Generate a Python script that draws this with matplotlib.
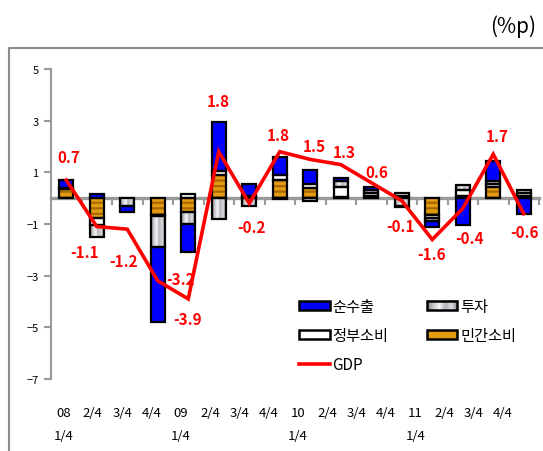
import numpy as np
import matplotlib
matplotlib.use("Agg")
import matplotlib.pyplot as plt
from matplotlib.patches import Patch, Rectangle
from matplotlib.lines import Line2D
from matplotlib.legend_handler import HandlerBase
from matplotlib.image import BboxImage
from matplotlib.transforms import Bbox, TransformedBbox, blended_transform_factory
from matplotlib.colors import LinearSegmentedColormap

plt.rcParams['font.family'] = ['Noto Sans CJK KR', 'DejaVu Sans']
plt.rcParams['hatch.linewidth'] = 1.6

# -----------------------------------------------------------------------------
# Data : contributions to GDP growth (q/q, %p)
# -----------------------------------------------------------------------------
quarters = ["08\n1/4", "2/4", "3/4", "4/4",
            "09\n1/4", "2/4", "3/4", "4/4",
            "10\n1/4", "2/4", "3/4", "4/4",
            "11\n1/4", "2/4", "3/4", "4/4"]
gdp = [0.7, -1.1, -1.2, -3.2, -3.9, 1.8, -0.2, 1.8,
       1.5, 1.3, 0.6, -0.1, -1.6, -0.4, 1.7, -0.6]
private = [0.35, -0.75, 0.0, -0.65, -0.55, 0.9, 0.05, 0.7,
           0.4, 0.05, 0.1, 0.1, -0.65, 0.1, 0.45, 0.1]
government = [0.05, -0.3, 0.0, -0.05, 0.15, 0.15, 0.05, 0.2,
              0.15, 0.4, 0.1, 0.1, -0.1, 0.2, 0.1, 0.1]
investment = [0.0, -0.45, -0.32, -1.2, -0.45, -0.8, -0.3, -0.05,
              -0.1, 0.2, 0.1, -0.3, -0.15, 0.2, 0.1, 0.1]
net_exports = [0.3, 0.15, -0.2, -2.9, -1.1, 1.9, 0.45, 0.7,
               0.55, 0.15, 0.15, -0.05, -0.2, -1.05, 0.8, -0.6]

# -----------------------------------------------------------------------------
# Styles
# -----------------------------------------------------------------------------
BLUE = '#0000ff'
ORANGE = '#e39b12'
ORANGE_DARK = '#a86a00'
RED = '#ff0000'
AXIS_GREY = '#9a9a9a'
FRAME_GREY = '#8c8c8c'
grey_cmap = LinearSegmentedColormap.from_list(
    'steel', ['#85858d', '#c9c9ce', '#f5f5f7', '#b2b2ba', '#dcdce0', '#85858d'])
grad = np.linspace(0, 1, 64).reshape(1, -1)

# label offsets in pixels (dx, dy) for the GDP values
label_offsets = [(3, 23), (-12, -25), (-4, -32), (23, 2), (-1, -20), (0, 51),
                 (2, -24), (-1, 17), (4, 13), (3, 13), (6, 11), (-1, -25),
                 (-1, -15), (7, -30), (4, 18), (1, -18)]


class SwatchHandler(HandlerBase):
    """Legend swatch that mimics the bar fills (gradient / striped)."""

    def __init__(self, kind):
        super().__init__()
        self.kind = kind

    def create_artists(self, legend, orig_handle, xdescent, ydescent,
                       width, height, fontsize, trans):
        x0, y0 = -xdescent, -ydescent
        artists = []
        face = 'none'
        if self.kind == 'grey':
            bb = TransformedBbox(Bbox.from_bounds(x0, y0, width, height), trans)
            img = BboxImage(bb, cmap=grey_cmap, interpolation='bilinear')
            img.set_data(grad)
            artists.append(img)
        elif self.kind == 'orange':
            artists.append(Rectangle((x0, y0), width, height, facecolor=ORANGE,
                                     edgecolor=ORANGE_DARK, linewidth=0,
                                     hatch='-', transform=trans))
        elif self.kind == 'blue':
            face = BLUE
        else:
            face = 'white'
        artists.append(Rectangle((x0, y0), width, height, facecolor=face,
                                 edgecolor='black', linewidth=1.8,
                                 transform=trans))
        return artists


fig = plt.figure(figsize=(5.43, 4.52), dpi=100)
ax = fig.add_axes([51 / 543, 1 - 380 / 452, (539 - 51) / 543, 310 / 452])

x = np.arange(len(quarters))
width = 0.45

# stacked bars: private, government, investment, net exports
pos_base = np.zeros(len(x))
neg_base = np.zeros(len(x))
for values, kind in [(private, 'orange'), (government, 'white'),
                     (investment, 'grey'), (net_exports, 'blue')]:
    v = np.array(values, dtype=float)
    bottom = np.where(v >= 0, pos_base, neg_base)
    m = v != 0
    if kind == 'orange':
        ax.bar(x[m], v[m], width, bottom=bottom[m], color=ORANGE,
               edgecolor=ORANGE_DARK, linewidth=0, hatch='---', zorder=3)
    elif kind == 'white':
        ax.bar(x[m], v[m], width, bottom=bottom[m], color='white', zorder=3)
    elif kind == 'blue':
        ax.bar(x[m], v[m], width, bottom=bottom[m], color=BLUE, zorder=3)
    else:
        for xi, vi, bi in zip(x[m], v[m], bottom[m]):
            ax.imshow(grad, cmap=grey_cmap, aspect='auto',
                      interpolation='bilinear', zorder=3,
                      extent=(xi - width / 2, xi + width / 2, bi, bi + vi))
    ax.bar(x[m], v[m], width, bottom=bottom[m], facecolor='none',
           edgecolor='black', linewidth=1.6, zorder=4)
    pos_base += np.where(v > 0, v, 0)
    neg_base += np.where(v < 0, v, 0)

# GDP line and value labels
ax.plot(x, gdp, color=RED, linewidth=2.6, zorder=5, solid_joinstyle='miter')
for xi, val, (dx, dy) in zip(x, gdp, label_offsets):
    ax.annotate(f"{val:.1f}", (xi, val), xytext=(dx, dy),
                textcoords='offset pixels', ha='center', va='center',
                color=RED, fontsize=11, fontweight='bold', zorder=6)

# axes
ax.set_xlim(-0.5, 15.5)
ax.set_ylim(-7, 5)
ax.set_yticks([5, 3, 1, -1, -3, -5, -7])
ax.tick_params(axis='y', direction='out', length=5, width=1.5,
               color=AXIS_GREY, labelsize=8, pad=4)
ax.set_xticks([])
ax.set_xticks(np.arange(-0.5, 16, 1), minor=True)
ax.tick_params(axis='x', which='minor', direction='out', length=5, width=1.5,
               color=AXIS_GREY, labelbottom=False)
ax.spines['bottom'].set_position(('data', 0))
ax.spines['bottom'].set_color(AXIS_GREY)
ax.spines['bottom'].set_linewidth(2.4)
ax.spines['left'].set_color(AXIS_GREY)
ax.spines['left'].set_linewidth(1.5)
ax.spines['top'].set_visible(False)
ax.spines['right'].set_visible(False)
ax.patch.set_alpha(0)

# quarter labels along the bottom (slightly tighter pitch than the bars)
label_trans = blended_transform_factory(ax.transData, fig.transFigure)
for xi, lab in zip(x, quarters):
    ax.text(xi * 0.961 - 0.09, 1 - 407 / 452, lab, ha='center', va='top',
            fontsize=9.5, linespacing=2.0, transform=label_trans)

# legend
h_nx = Patch(label='순수출')
h_inv = Patch(label='투자')
h_gov = Patch(label='정부소비')
h_pc = Patch(label='민간소비')
h_gdp = Line2D([], [], color=RED, linewidth=2.6, label='GDP')
handles = [h_nx, h_gov, h_gdp, h_inv, h_pc]
ax.legend(handles=handles, labels=[h.get_label() for h in handles],
          handler_map={h_nx: SwatchHandler('blue'), h_inv: SwatchHandler('grey'),
                       h_gov: SwatchHandler('white'), h_pc: SwatchHandler('orange')},
          ncol=2, frameon=False, fontsize=11, handlelength=2.0,
          handleheight=0.55, handletextpad=0.2, columnspacing=2.5,
          labelspacing=0.78, borderpad=0, borderaxespad=0,
          loc='upper left', bbox_to_anchor=(299 / 543, 1 - 299 / 452),
          bbox_transform=fig.transFigure)

# unit label and outer frame
fig.text(0.988, 1 - 27 / 452, '(%p)', ha='right', va='center', fontsize=15)
fig.add_artist(Line2D([9 / 543, 9 / 543, 1.0], [0.0, 1 - 49 / 452, 1 - 49 / 452],
                      transform=fig.transFigure, color=FRAME_GREY, linewidth=1.5))

fig.savefig('out.png', dpi=100)
